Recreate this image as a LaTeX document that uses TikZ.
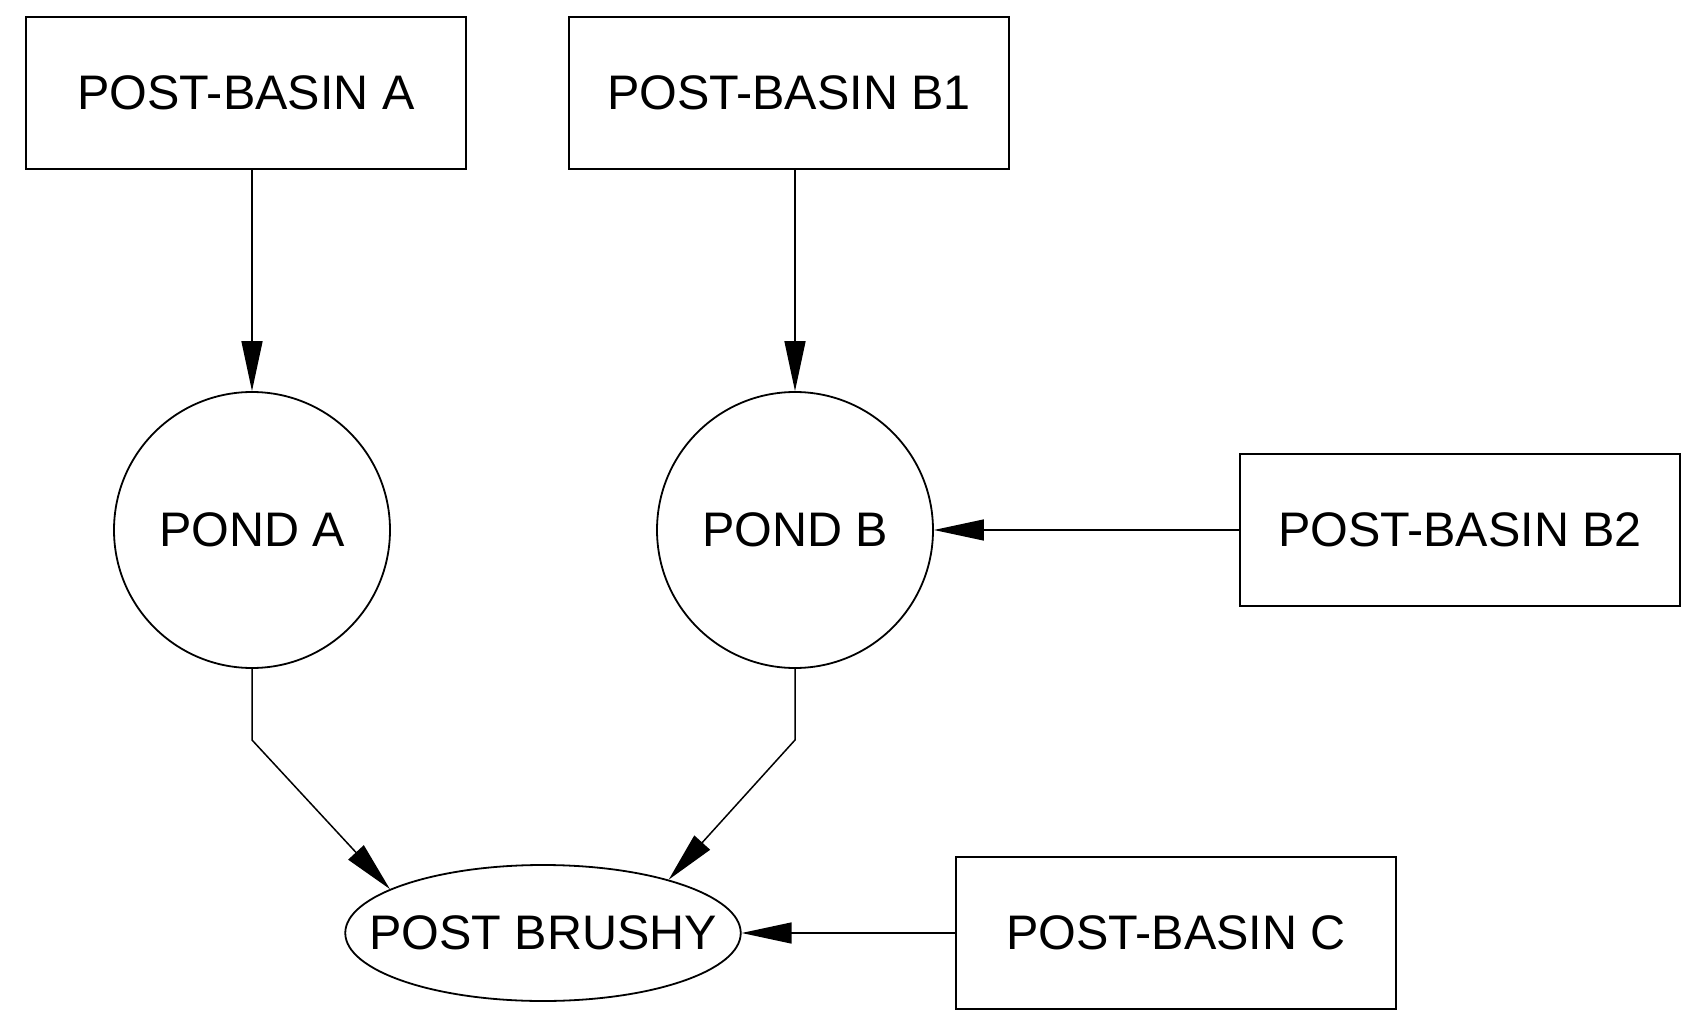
\documentclass[tikz,border=0pt]{standalone}
\usepackage{fontspec}
\setmainfont{Liberation Sans}
\usetikzlibrary{arrows.meta,shapes.geometric}
\begin{document}
\begin{tikzpicture}[x=1pt,y=-1pt,
  every node/.style={font=\fontsize{48.5}{55}\selectfont, inner sep=0pt, line width=1.8pt, draw=black},
  basin/.style={rectangle, minimum width=440pt, minimum height=152pt},
  pond/.style={circle, minimum size=276pt},
  river/.style={ellipse, inner xsep=-34pt, inner ysep=0pt, minimum width=390pt, minimum height=136pt},
  arr/.style={line width=1.5pt, -{Triangle[length=50pt,width=21pt]}}]
\useasboundingbox (0,0) rectangle (1695,1016);
\node[basin] (bA) at (246,93) {POST-BASIN A};
\node[basin] (bB1) at (789,93) {POST-BASIN B1};
\node[pond] (pA) at (252,530) {POND A};
\node[pond] (pB) at (795,530) {POND B};
\node[basin] (bB2) at (1460,530) {POST-BASIN B2};
\node[river] (br) at (543,933) {POST BRUSHY};
\node[basin] (bC) at (1176,933) {POST-BASIN C};
\coordinate (kA) at (252,740);
\coordinate (kB) at (795,740);
\draw[arr] (bA.south -| pA.north) -- (pA.north);
\draw[arr] (bB1.south -| pB.north) -- (pB.north);
\draw[arr] (bB2.west) -- (pB.east);
\draw[arr] (pA.south) -- (kA) -- (br.164);
\draw[arr] (pB.south) -- (kB) -- (br.23);
\draw[arr] (bC.west) -- (br.east);
\end{tikzpicture}
\end{document}
